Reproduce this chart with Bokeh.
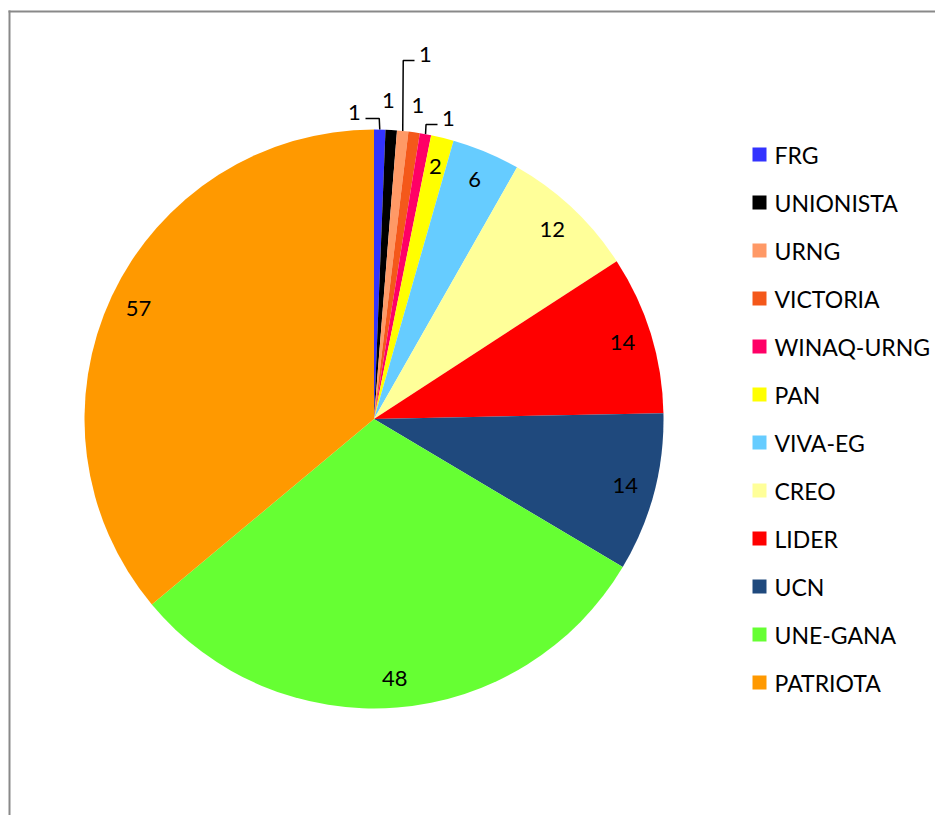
import math
from bokeh.plotting import figure
from bokeh.models import Range1d, ColumnDataSource
from bokeh.core.properties import value
from bokeh.embed import file_html
from bokeh.resources import INLINE

# ---- data ----
parties = ["FRG", "UNIONISTA", "URNG", "VICTORIA", "WINAQ-URNG", "PAN",
           "VIVA-EG", "CREO", "LIDER", "UCN", "UNE-GANA", "PATRIOTA"]
seats = [1, 1, 1, 1, 1, 2, 6, 12, 14, 14, 48, 57]
colors = ["#3333FF", "#000000", "#FF9966", "#F4581A", "#FF0066", "#FFFF00",
          "#66CCFF", "#FFFF99", "#FF0000", "#1F497D", "#66FF33", "#FF9900"]

# ---- layout (pixels, page coordinates converted to data with y up) ----
W, H = 935, 815
CX, CY, R = 373.5, H - 418.5, 289.5
LABEL_D = 260
FONT = "Lato"
# manually placed labels (offset from pie centre, x right / y down), None = automatic
label_offsets = [(-19.5, -307), (14.5, -318.5), (51.5, -365), (44, -314), (74.5, -301),
                 None, None, None, None, None, None, None]
# leader line: side of label where the line ends (-1 left of text, +1 right of text, 0 none)
leader_side = [1, 0, -1, 0, -1, 0, 0, 0, 0, 0, 0, 0]

total = sum(seats)
starts, ends, mids = [], [], []
cum = 0
for s in seats:
    a0 = cum / total * 2 * math.pi
    cum += s
    a1 = cum / total * 2 * math.pi
    starts.append(math.pi / 2 - a0)
    ends.append(math.pi / 2 - a1)
    mids.append((a0 + a1) / 2)

p = figure(width=W, height=H, output_backend="svg", toolbar_location=None,
           x_range=Range1d(0, W), y_range=Range1d(0, H), min_border=0,
           match_aspect=False)
p.axis.visible = False
p.grid.visible = False
p.outline_line_color = None
p.background_fill_color = "white"
p.border_fill_color = "white"

# chart border (left + top visible)
p.segment(x0=[9, 8], y0=[0, H - 11], x1=[9, W], y1=[H - 10, H - 11],
          line_color="#898989", line_width=2)

src = ColumnDataSource(dict(start=starts, end=ends, color=colors, party=parties))
p.wedge(x=CX, y=CY, radius=R, start_angle="start", end_angle="end",
        direction="clock", fill_color="color", line_color=None, source=src)

lx, ly, lt = [], [], []
lead_xs, lead_ys = [], []
for i, s in enumerate(seats):
    th = mids[i]
    if label_offsets[i] is None:
        x = CX + LABEL_D * math.sin(th)
        y = CY + LABEL_D * math.cos(th)
    else:
        x = CX + label_offsets[i][0]
        y = CY - label_offsets[i][1]
    lx.append(x); ly.append(y); lt.append(str(s))
    if leader_side[i] != 0:
        ex = CX + R * math.sin(th)
        ey = CY + R * math.cos(th)
        yl = y - 6.5
        endx = x + leader_side[i] * 11
        lead_xs.append([ex, ex - 0.5 * leader_side[i], endx])
        lead_ys.append([ey, yl, yl])

p.multi_line(xs=lead_xs, ys=lead_ys, line_color="black", line_width=1.5)
p.text(x=lx, y=ly, text=lt, text_align="center", text_baseline="middle",
       text_font=value(FONT), text_font_size="22px", text_color="black")

# legend
leg_y = [H - 154 - 48 * i for i in range(len(parties))]
p.rect(x=[759] * len(parties), y=leg_y, width=14, height=14,
       fill_color=colors, line_color=None)
p.text(x=[774] * len(parties), y=leg_y, text=parties, text_align="left",
       text_baseline="middle", text_font=value(FONT), text_font_size="23px",
       text_color="black")

open("out.html", "w").write(file_html(p, INLINE))
